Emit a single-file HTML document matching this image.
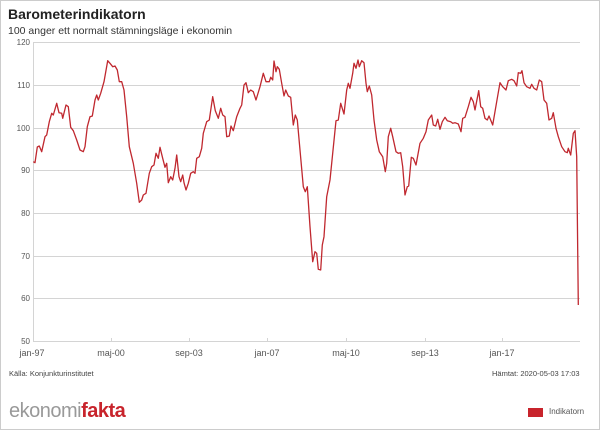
<!DOCTYPE html>
<html><head><meta charset="utf-8"><style>
body{margin:0;background:#fff;}
.w{position:relative;width:598px;height:428px;border:1px solid #ccc;font-family:"Liberation Sans",sans-serif;overflow:hidden;}
.t{position:absolute;left:7px;top:5px;font-size:14px;font-weight:bold;color:#222;}
.s{position:absolute;left:7px;top:24px;font-size:10.5px;color:#333;}
.yl{position:absolute;width:24px;text-align:right;left:5px;font-size:8px;color:#555;}
.xl{position:absolute;font-size:9px;color:#555;transform:translateX(-50%);top:347px;}
.f{position:absolute;font-size:7.5px;color:#444;top:368px;}
</style></head><body><div class="w">
<div class="t">Barometerindikatorn</div>
<div class="s">100 anger ett normalt stämningsläge i ekonomin</div>
<svg width="600" height="430" style="position:absolute;left:-1px;top:-1px">
<g stroke="#d4d4d4" stroke-width="1">
<line x1="33" y1="42.5" x2="580" y2="42.5"/><line x1="33" y1="85.5" x2="580" y2="85.5"/>
<line x1="33" y1="128.5" x2="580" y2="128.5"/><line x1="33" y1="170.5" x2="580" y2="170.5"/>
<line x1="33" y1="213.5" x2="580" y2="213.5"/><line x1="33" y1="256.5" x2="580" y2="256.5"/>
<line x1="33" y1="298.5" x2="580" y2="298.5"/><line x1="33" y1="341.5" x2="580" y2="341.5"/>
<line x1="33.5" y1="42" x2="33.5" y2="342"/>
<line x1="111.5" y1="338" x2="111.5" y2="342"/><line x1="189.5" y1="338" x2="189.5" y2="342"/>
<line x1="267.5" y1="338" x2="267.5" y2="342"/><line x1="346.5" y1="338" x2="346.5" y2="342"/>
<line x1="425.5" y1="338" x2="425.5" y2="342"/><line x1="502.5" y1="338" x2="502.5" y2="342"/>
</g>
<polyline fill="none" stroke="#c0282f" stroke-width="1.3" stroke-linejoin="round" points="33.3,161.7 35,162.7 37.3,147 39.3,146 41.7,151.7 45,136.7 46.7,135 49.3,121.7 51.7,113.3 53.3,115 56.7,103.3 59,112.7 61.7,113.3 62.7,118.3 66,105 68.3,106.7 70.7,127.3 73.3,130.7 76.7,140 80,150 83.3,151.7 85,146.7 87.3,126.7 90,116.7 92.3,116 95,100 96.7,95 98.3,100 100.7,93.3 104,81.7 107.7,60.7 110,63.3 112.7,66.7 115,66 117.3,70 119.3,81.7 121.7,81.7 124,90 126.7,116.7 129.3,146.7 133.3,163.3 136.7,183.3 139.3,202.3 141.7,200 143.3,195 146,193.3 149.3,173.3 151.7,166.7 154,165 156,153.3 158.3,158.3 160,147.3 162.7,158.3 165,167.3 166.7,163.3 168.3,182.7 170.7,176.7 172.7,180 175,168.3 176.7,155 179,176.7 180.7,181.7 182.7,175 184,182.7 186,190 188.3,183.3 190.7,173.3 193.3,171.7 195,173.3 196.7,158.3 199.3,156.7 201.7,148.3 203.3,133.3 206.7,121.7 209.3,120 212.7,96.7 215.3,110.7 218.3,118.3 220.7,108.3 222.7,115 225,116.7 226.7,136.7 229.3,136 231,126 233.3,130.7 236.7,116.7 240,108.3 241.7,105 244,85 246,82.7 248.3,92.7 250.7,90 253.3,91.7 256,100 260,86.7 263.3,73.3 266,81.7 269.3,81.7 270.7,77.3 272.7,80 274,61 276,71.7 277.3,66.7 279.3,69.3 281.7,83.3 284,96 285.7,90 288.3,96 290.7,97.3 293.3,125 295.3,115 297.3,120 300,150 303.3,186.7 305.3,191.7 307.3,186.7 310,226.7 312.7,261.7 315,251.7 316.7,253.3 318.3,269.3 320.7,270 322.3,245 324,236.7 326.7,196.7 330,180 332.7,153.3 336,120.7 338.3,120 340.7,103.3 344,114 346.7,90 348.3,83.3 350,88.3 352.7,73.3 354,63.3 356,68.3 358,60 359.3,66.7 361.7,60.7 364,62.7 366,83.3 367.3,91.7 369.3,86 371.7,95 374,120 376.7,140 379.3,151.7 382.7,156.7 385.3,171.7 386.7,163.3 388.3,136.7 390.7,128.3 392.7,136.7 396,151.7 398.3,153.3 400.7,152.7 402.7,166.7 405,195 407.3,186.7 408.7,186 411.3,157.3 413.3,158.3 416,165 420,143.3 423.3,138.3 426,131.7 428.3,120 431.7,115 433.3,125 435.7,126 437.7,119.3 440,129.3 442.3,121.7 445,117.3 447.3,120.7 450.7,121.7 452.7,123.3 455,122.7 458.3,124 461,131.7 462.7,118.3 465,117.3 468.3,106.7 471,97.3 473.3,101.7 475,110 478.7,90.7 480.7,106.7 482.7,108.3 485,118.3 487.3,120 489,116 492.7,125 496.7,101.7 500,82.7 502.7,86.7 506,90 508.3,80.7 511.7,79.3 514,80.7 516.7,86 518.3,72.7 520.7,73.3 522,70.7 524,82.7 526.7,86.7 530,88.3 531.7,84.3 534,88.3 536.7,90 539.3,80 541.7,81.7 544,100 546.7,103.3 549,120 551.7,118.3 553.3,112.7 556,128.3 558.3,136.7 561.7,146.7 565,151.7 567.3,152.7 568.3,148.3 570.7,155 573.3,133.3 575,130.7 576.7,156.7 578.3,305"/>
</svg>
<div class="yl" style="top:37px">120</div><div class="yl" style="top:80px">110</div>
<div class="yl" style="top:123px">100</div><div class="yl" style="top:165px">90</div>
<div class="yl" style="top:208px">80</div><div class="yl" style="top:251px">70</div>
<div class="yl" style="top:293px">60</div><div class="yl" style="top:336px">50</div>
<div class="xl" style="left:31px">jan-97</div><div class="xl" style="left:110px">maj-00</div>
<div class="xl" style="left:188px">sep-03</div><div class="xl" style="left:266px">jan-07</div>
<div class="xl" style="left:345px">maj-10</div><div class="xl" style="left:424px">sep-13</div>
<div class="xl" style="left:501px">jan-17</div>
<div class="f" style="left:8px">Källa: Konjunkturinstitutet</div>
<div class="f" style="left:491px">Hämtat: 2020-05-03 17:03</div>
<div style="position:absolute;left:8px;top:399px;font-size:20px;color:#999;letter-spacing:-0.5px">ekonomi<span style="color:#c8242c;font-weight:bold">fakta</span></div>
<div style="position:absolute;left:527px;top:407px;width:15px;height:9px;background:#c8242c"></div>
<div style="position:absolute;left:548px;top:406px;font-size:8px;color:#555">Indikatorn</div>
</div></body></html>
